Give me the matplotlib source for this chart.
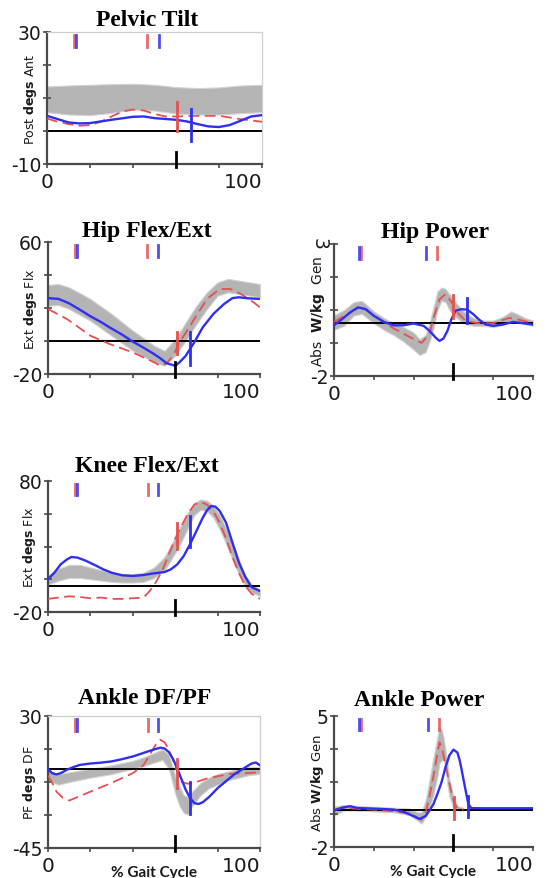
import numpy as np
import matplotlib.pyplot as plt

plt.rcParams['font.family'] = ['DejaVu Sans']
plt.rcParams['mathtext.fontset'] = 'dejavusans'

BLUE = '#2f2ff2'
RED = '#e65050'
BAND = '#b4b4b4'
AXC = '#4a4a4a'

# ---- Pelvic Tilt ----
pel_band_x = [0, 10, 20, 30, 40, 50, 60, 70, 80, 90, 100]
pel_band_hi = [13.5, 13.8, 14.0, 14.2, 14.3, 14.0, 13.3, 13.0, 13.2, 13.8, 14.0]
pel_band_lo = [5.7, 5.0, 4.8, 5.5, 6.5, 6.2, 5.3, 5.0, 5.0, 5.4, 5.7]
pel_blue_x = [0, 5, 10, 15, 20, 30, 40, 45, 50, 60, 65, 70, 75, 80, 85, 90, 95, 100]
pel_blue = [4.6, 3.6, 2.6, 2.3, 2.4, 3.4, 4.3, 4.4, 3.9, 3.4, 2.9, 2.1, 1.4, 1.2, 1.8, 3.1, 4.4, 4.8]
pel_red_x = [0, 5, 10, 15, 20, 25, 30, 35, 40, 45, 50, 55, 60, 70, 80, 90, 100]
pel_red = [3.8, 2.8, 2.1, 1.6, 1.8, 2.8, 4.4, 5.9, 6.5, 6.2, 5.2, 4.4, 4.4, 4.6, 4.6, 3.6, 2.8]

# ---- Hip Flex/Ext ----
hip_band_x = [0, 5, 10, 20, 30, 40, 50, 55, 60, 65, 70, 75, 80, 85, 90, 95, 100]
hip_band_hi = [34, 34.5, 32.5, 25.5, 16.4, 6.3, -2.8, -5.9, 1.2, 11.3, 21.4, 29.5, 35.6, 37.6, 36.6, 35.6, 34.5]
hip_band_lo = [21.4, 21.8, 19.4, 12.3, 3.2, -5.9, -12.9, -15, -8.9, 0.2, 10.3, 19.4, 27.5, 29.5, 28.5, 27.5, 26.5]
hip_blue_x = [0, 5, 10, 15, 20, 25, 29, 35, 40, 45, 50, 53, 56, 60, 62, 65, 69, 73, 78, 83, 87, 90, 94, 100]
hip_blue = [26, 25.5, 22.8, 19, 15, 11.5, 8.3, 3.8, -0.4, -4, -7.9, -10.5, -13.5, -15, -13, -8.9, -0.8, 8.3, 16.4, 22.4, 26, 26.5, 25.9, 25.5]
hip_red_x = [0, 9, 20, 29, 40, 50, 53, 56, 59, 62, 65, 69, 75, 81, 86, 91, 97, 100]
hip_red = [19.4, 13.3, 3.2, -1.8, -6.9, -12.9, -15, -13.5, -8.9, -0.8, 5, 13.3, 25.5, 31.5, 31.5, 28.5, 23.4, 20.4]

# ---- Hip Power ----
hpw_band_x = [0, 5, 10, 14, 20, 25, 30, 35, 40, 43, 46, 48, 50, 52, 54, 56, 58, 61, 65, 70, 75, 80, 85, 89, 92, 96, 100]
hpw_band_hi = [0.3, 0.5, 0.8, 0.85, 0.45, 0.2, 0.0, -0.15, -0.35, -0.6, -0.45, 0.0, 0.6, 1.2, 1.35, 1.3, 1.1, 0.8, 0.45, 0.2, 0.1, 0.1, 0.25, 0.45, 0.35, 0.2, 0.1]
hpw_band_lo = [-0.25, -0.1, 0.3, 0.35, 0.0, -0.25, -0.45, -0.7, -1.0, -1.2, -1.1, -0.7, -0.2, 0.5, 0.85, 0.8, 0.5, 0.25, 0.0, -0.1, -0.1, -0.15, -0.05, 0.1, 0.05, -0.05, -0.1]
hpw_blue_x = [0, 4, 8, 12, 16, 20, 25, 30, 35, 40, 45, 48, 51, 53, 55, 57, 59, 61, 64, 67, 70, 73, 76, 80, 85, 90, 95, 100]
hpw_blue = [-0.08, 0.15, 0.4, 0.6, 0.53, 0.28, 0.05, -0.08, -0.08, -0.01, -0.1, -0.29, -0.54, -0.67, -0.58, -0.29, 0.15, 0.47, 0.53, 0.51, 0.34, 0.13, -0.04, -0.1, -0.05, 0.05, 0.0, -0.05]
hpw_red_x = [0, 10, 14, 20, 30, 40, 44, 48, 50, 53, 56, 59, 62, 66, 72, 80, 88, 92, 100]
hpw_red = [0.05, 0.5, 0.6, 0.3, -0.2, -0.6, -0.75, -0.4, 0.2, 0.9, 1.1, 0.8, 0.4, 0.1, 0.0, 0.0, 0.2, 0.15, 0.0]

# ---- Knee Flex/Ext ----
kne_band_x = [0, 5, 10, 15, 20, 25, 30, 35, 40, 45, 50, 55, 60, 63, 66, 69, 72, 75, 78, 81, 84, 87, 90, 93, 96, 100]
kne_band_hi = [8, 13, 16, 16, 14, 12, 10, 9, 9, 10, 14, 22, 37, 47, 56, 63, 66, 65, 61, 54, 44, 33, 20, 8, 1, -3]
kne_band_lo = [1, 4, 6, 6, 5, 4, 3, 2.5, 2.5, 3, 6, 12, 25, 34, 44, 54, 58, 57, 52, 43, 32, 20, 9, 0, -5, -8]
kne_blue_x = [0, 3, 6, 9, 11, 14, 18, 22, 26, 30, 35, 40, 45, 50, 55, 58, 61, 64, 67, 70, 73, 75, 77, 79, 81, 84, 87, 90, 93, 96, 100]
kne_blue = [5, 10, 16.4, 20.2, 22, 21.5, 19, 15.9, 12.6, 10, 8, 7.5, 8.2, 9.5, 10.5, 12.6, 16.4, 22.7, 31.7, 41.8, 52, 57.6, 60.9, 60.4, 57.1, 48.2, 33, 18, 7, -1, -4]
kne_red_x = [0, 5, 10, 15, 20, 25, 30, 35, 40, 45, 48, 51, 54, 57, 60, 63, 66, 69, 72, 75, 78, 81, 84, 87, 90, 93, 96, 100]
kne_red = [-10, -9, -8, -8.5, -9.5, -9, -10, -10, -9.5, -9, -4, 3, 12, 24, 36, 46, 55, 62, 64, 62, 57, 48, 36, 22, 10, 0, -6, -10]

# ---- Ankle DF/PF ----
ank_band_x = [0, 5, 10, 20, 30, 40, 45, 50, 54, 57, 60, 62, 64, 66, 68, 72, 76, 80, 85, 90, 95, 100]
ank_band_hi = [-1, -3, -2, 0, 2, 4.5, 6.5, 9, 11, 8, -4, -10, -15, -16, -13, -8, -5, -3, -1.5, 0, 1, 1]
ank_band_lo = [-7, -9, -7.5, -5, -3, 0, 1.5, 3.5, 5, 0, -14, -21, -25, -26, -21, -15, -11, -9, -6.5, -5, -3.5, -3]
ank_blue_x = [0, 2, 4, 6, 9, 12, 15, 20, 25, 30, 35, 40, 45, 50, 53, 55, 57, 59, 61, 63, 65, 67, 69, 71, 73, 76, 80, 84, 88, 92, 96, 98, 100]
ank_blue = [-0.2, -2.5, -3.2, -2.5, -0.5, 1, 2.2, 3, 3.5, 4.2, 5.5, 7, 9, 11, 12, 11.5, 9.5, 5.5, 0, -6, -12, -16.5, -19.5, -20, -19, -16, -11, -7, -3, 0, 3, 3.6, 2]
ank_red_x = [0, 2, 4, 7, 10, 14, 20, 30, 40, 45, 48, 51, 53, 55, 57, 59, 61, 63, 66, 70, 75, 85, 100]
ank_red = [-4, -8, -13, -16.5, -18, -16, -13, -8, -2.5, 2, 8, 14, 16.5, 15, 11, 5, -2, -7.5, -8.5, -7.5, -5.5, -3, -2]

# ---- Ankle Power ----
apw_band_x = [0, 5, 10, 20, 30, 38, 42, 44, 46, 48, 50, 52, 53, 54, 55, 56, 57, 58, 60, 62, 65]
apw_band_hi = [0.15, 0.25, 0.2, 0.15, 0.1, 0.05, -0.15, -0.15, 0.5, 1.6, 2.8, 3.9, 4.4, 4.3, 3.9, 3.2, 2.5, 1.6, 0.7, 0.2, 0.1]
apw_band_lo = [-0.3, -0.05, -0.05, -0.1, -0.15, -0.3, -0.6, -0.75, -0.4, 0.1, 0.8, 1.8, 2.5, 2.6, 2.7, 2.3, 1.3, 0.7, 0.1, -0.05, -0.05]
apw_blue_x = [0, 4, 8, 12, 20, 30, 35, 40, 43, 46, 48, 50, 52, 54, 56, 58, 60, 62, 63, 64, 66, 67.5, 69, 75, 100]
apw_blue = [-0.05, 0.1, 0.18, 0.08, 0.05, 0.0, -0.12, -0.35, -0.5, -0.35, -0.05, 0.3, 0.85, 1.45, 2.25, 2.9, 3.2, 3.05, 2.7, 2.2, 1.1, 0.3, 0.08, 0.07, 0.07]
apw_red_x = [0, 5, 10, 20, 30, 38, 42, 44, 46, 48, 50, 52, 53, 54, 56, 58, 60, 62, 65]
apw_red = [0.0, 0.1, 0.05, 0.0, -0.1, -0.2, -0.45, -0.55, -0.2, 0.7, 1.8, 3.0, 3.6, 3.4, 2.4, 1.4, 0.5, 0.05, 0.0]

# toe-off bars (x, y0, y1) and foot-strike markers near the top
toe_red = {'pel': (60.5, 0, 8.7), 'hip': (61, -7.9, 5.3), 'hpw': (60, 0.2, 1.05),
           'kne': (60.7, 28, 48), 'ank': (60.8, -11, 5.5), 'apw': (60.3, -0.5, 0.65)}
toe_blue = {'pel': (67, -2.9, 6.7), 'hip': (67, -14.3, 5.3), 'hpw': (67, 0.0, 0.95),
            'kne': (67, 30, 53), 'ank': (67, -25.6, -7.7), 'apw': (67.5, -0.4, 0.75)}
top_red = {'pel': [12.5, 46.5], 'hip': [12.5, 46.5], 'hpw': [13.5, 52],
           'kne': [12.5, 47], 'ank': [12.5, 47], 'apw': [13.5, 53]}
top_blue = {'pel': [13.5, 52], 'hip': [13.5, 52], 'hpw': [12.5, 46],
            'kne': [13.5, 52], 'ank': [13.5, 52], 'apw': [12.5, 47]}

W, H = 560, 879
fig = plt.figure(figsize=(W / 100, H / 100), dpi=100)

panels = [
    # key, title, (left, right, top, bottom) px, ylim, ylabel, label x px, label size, title x, title pad, frame
    ('pel', 'Pelvic Tilt', (47, 262, 33, 165), (-10, 30), r'Post $\mathbf{degs}$ Ant', 30.5, 9, 0.465, 5, True,
     (pel_band_x, pel_band_lo, pel_band_hi), (pel_red_x, pel_red), (pel_blue_x, pel_blue)),
    ('hip', 'Hip Flex/Ext', (48, 260, 243, 375), (-20, 60), r'Ext $\mathbf{degs}$ Flx', 30.5, 9, 0.467, 4, False,
     (hip_band_x, hip_band_lo, hip_band_hi), (hip_red_x, hip_red), (hip_blue_x, hip_blue)),
    ('hpw', 'Hip Power', (334, 533, 245, 377), (-2, 3), r'Abs  $\mathbf{W/kg}$  Gen', 318, 10, 0.507, 5, False,
     (hpw_band_x, hpw_band_lo, hpw_band_hi), (hpw_red_x, hpw_red), (hpw_blue_x, hpw_blue)),
    ('kne', 'Knee Flex/Ext', (48, 260, 482, 613), (-20, 80), r'Ext $\mathbf{degs}$ Flx', 30, 9, 0.467, 7, False,
     (kne_band_x, kne_band_lo, kne_band_hi), (kne_red_x, kne_red), (kne_blue_x, kne_blue)),
    ('ank', 'Ankle DF/PF', (48, 260, 717, 849), (-45, 30), r'PF $\mathbf{degs}$ DF', 29, 9, 0.458, 9, True,
     (ank_band_x, ank_band_lo, ank_band_hi), (ank_red_x, ank_red), (ank_blue_x, ank_blue)),
    ('apw', 'Ankle Power', (334, 533, 717, 848), (-2, 5), r'Abs $\mathbf{W/kg}$ Gen', 317, 9.5, 0.427, 8, False,
     (apw_band_x, apw_band_lo, apw_band_hi), (apw_red_x, apw_red), (apw_blue_x, apw_blue)),
]

for (key, title, (l, r, t, b), (lo, hi), ylab, lab_x, lab_fs, tx, tpad, frame,
     band, red, blue) in panels:
    ax = fig.add_axes([l / W, 1 - b / H, (r - l) / W, (b - t) / H])
    ax.set_xlim(0, 100)
    ax.set_ylim(lo, hi)

    ax.fill_between(band[0], band[1], band[2], color=BAND, lw=0.8, ec='#d2d2d2', zorder=1)
    ax.axhline(0, color='black', lw=1.4, zorder=2)
    ax.plot(red[0], red[1], color=RED, lw=1.3, ls=(0, (6, 3)), zorder=3)
    ax.plot(blue[0], blue[1], color=BLUE, lw=1.7, zorder=4)

    # toe-off bars
    for (x, y0, y1), c in ((toe_red[key], RED), (toe_blue[key], BLUE)):
        ax.plot([x, x], [y0, y1], color=c, lw=2, zorder=5)
    # gait events near the top
    for x in top_red[key]:
        ax.axvline(x, ymin=0.89, ymax=0.975, color=RED, lw=2, alpha=0.85, zorder=5)
    for x in top_blue[key]:
        ax.axvline(x, ymin=0.89, ymax=0.975, color=BLUE, lw=2, alpha=0.85, zorder=5)
    # normal toe-off tick
    ax.axvline(60, ymin=-0.025, ymax=0.09, color='black', lw=2, clip_on=False, zorder=6)

    ax.set_xticks(range(0, 101, 20))
    ax.set_xticklabels(['0', '', '', '', '', '100'])
    ax.get_xticklabels()[-1].set_horizontalalignment('right')
    yt = np.linspace(lo, hi, 5)
    ax.set_yticks(yt)
    ax.set_yticklabels([f'{lo:g}', '', '', '', f'{hi:g}'])
    if key == 'hpw':
        ax.get_yticklabels()[-1].set_rotation(270)
    ax.tick_params(axis='x', direction='out', length=3, width=1.2, color=AXC,
                   labelsize=14.5, pad=3, labelcolor='#1a1a1a')
    ax.tick_params(axis='y', direction='inout', length=6, width=1.2, color=AXC,
                   labelsize=13.5, pad=1, labelcolor='#1a1a1a')

    for s in ('left', 'bottom'):
        ax.spines[s].set_color(AXC)
        ax.spines[s].set_linewidth(1.6)
    for s in ('top', 'right'):
        if frame:
            ax.spines[s].set_color('#cfcfcf')
            ax.spines[s].set_linewidth(0.9)
        else:
            ax.spines[s].set_visible(False)

    ax.set_title(title, fontfamily='Liberation Serif', fontweight='bold',
                 fontsize=17, x=tx, pad=tpad)
    fig.text(lab_x / W, 1 - (t + b) / 2 / H, ylab, rotation=90, ha='center',
             va='center', fontsize=lab_fs, color='#1a1a1a')

    if key in ('ank', 'apw'):
        ax.text(0.5, -0.18, '% Gait Cycle', transform=ax.transAxes, ha='center',
                va='center', fontsize=11, fontweight='bold', color='#1a1a1a',
                fontfamily='Lato')

fig.savefig('out.png', dpi=100)
